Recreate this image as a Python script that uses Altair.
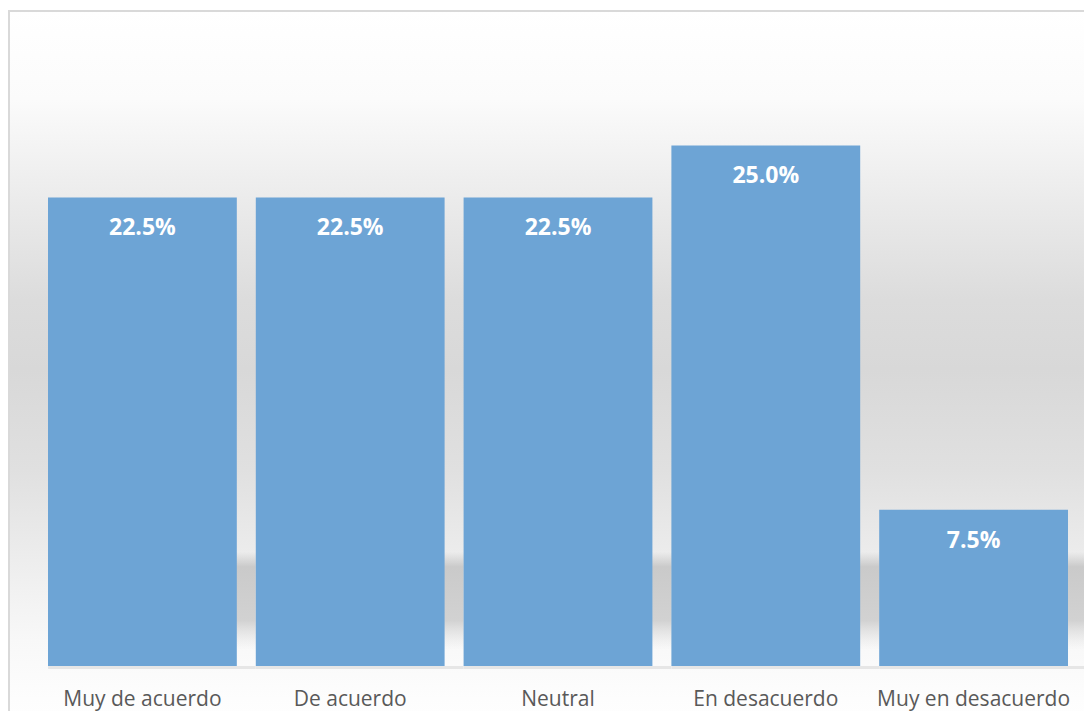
import altair as alt
import pandas as pd

categories = ["Muy de acuerdo", "De acuerdo", "Neutral", "En desacuerdo", "Muy en desacuerdo"]
values = [22.5, 22.5, 22.5, 25.0, 7.5]
labels = ["22.5%", "22.5%", "22.5%", "25.0%", "7.5%"]

df = pd.DataFrame({"cat": categories, "val": values, "lab": labels})

W, H = 1076, 658

xscale = alt.Scale(domain=categories, range=[40, 1060], paddingInner=0.0914, paddingOuter=0)
yscale = alt.Scale(domain=[0, 31.6], nice=False, zero=True)

bg_grad = alt.LinearGradient(
    gradient="linear", x1=0, x2=0, y1=0, y2=1,
    stops=[
        alt.GradientStop(color="#ffffff", offset=0),
        alt.GradientStop(color="#fbfbfb", offset=0.124),
        alt.GradientStop(color="#ebebeb", offset=0.264),
        alt.GradientStop(color="#dcdcdc", offset=0.403),
        alt.GradientStop(color="#d8d8d8", offset=0.5),
        alt.GradientStop(color="#e0e0e0", offset=0.64),
        alt.GradientStop(color="#ededed", offset=0.766),
        alt.GradientStop(color="#f8f8f8", offset=0.877),
        alt.GradientStop(color="#fdfdfd", offset=0.96),
        alt.GradientStop(color="#ffffff", offset=1),
    ],
)

background = alt.Chart(pd.DataFrame({"a": [0]})).mark_rect(
    fill=bg_grad, stroke="#d9d9d9", strokeWidth=2
).encode(
    x=alt.value(1), x2=alt.value(1200), y=alt.value(3), y2=alt.value(720)
)

shadow_grad = alt.LinearGradient(
    gradient="linear", x1=0, x2=0, y1=0, y2=1,
    stops=[
        alt.GradientStop(color="rgba(200,200,200,0)", offset=0),
        alt.GradientStop(color="rgba(200,200,200,0.95)", offset=0.15),
        alt.GradientStop(color="rgba(206,206,206,0.9)", offset=0.7),
        alt.GradientStop(color="rgba(225,225,225,0)", offset=1),
    ],
)

base = alt.Chart(df)

shadow = base.mark_bar(fill=shadow_grad, width={"band": 1.1}, xOffset=9.5).encode(
    x=alt.X("cat:N", scale=xscale, sort=categories),
    y=alt.value(544), y2=alt.value(642),
)

floor = base.mark_bar(color="#e6e6e6", width={"band": 1.1}, xOffset=9.5).encode(
    x=alt.X("cat:N", scale=xscale, sort=categories),
    y=alt.value(658), y2=alt.value(661),
)

bars = base.mark_bar(color="#6da4d5").encode(
    x=alt.X("cat:N", scale=xscale, sort=categories,
            axis=alt.Axis(title=None, domain=False, ticks=False, labelAngle=0,
                          labelAlign="center", labelLimit=400,
                          labelFont="Open Sans", labelFontSize=21, labelColor="#595959",
                          labelBaseline="alphabetic", labelPadding=39, zindex=2)),
    y=alt.Y("val:Q", scale=yscale, axis=None),
)

text = base.mark_text(
    font="Open Sans", fontWeight="bold", fontSize=23, color="white",
    baseline="alphabetic", dy=38
).encode(
    x=alt.X("cat:N", scale=xscale, sort=categories),
    y=alt.Y("val:Q", scale=yscale),
    text="lab:N",
)

chart = alt.layer(background, shadow, floor, bars, text).properties(
    width=W, height=H,
    padding={"left": 0, "top": 0, "right": 0, "bottom": 45},
    autosize=alt.AutoSizeParams(type="none"),
).configure_view(stroke=None)

chart.save("out.html", embed_options={"renderer": "svg", "actions": False})
